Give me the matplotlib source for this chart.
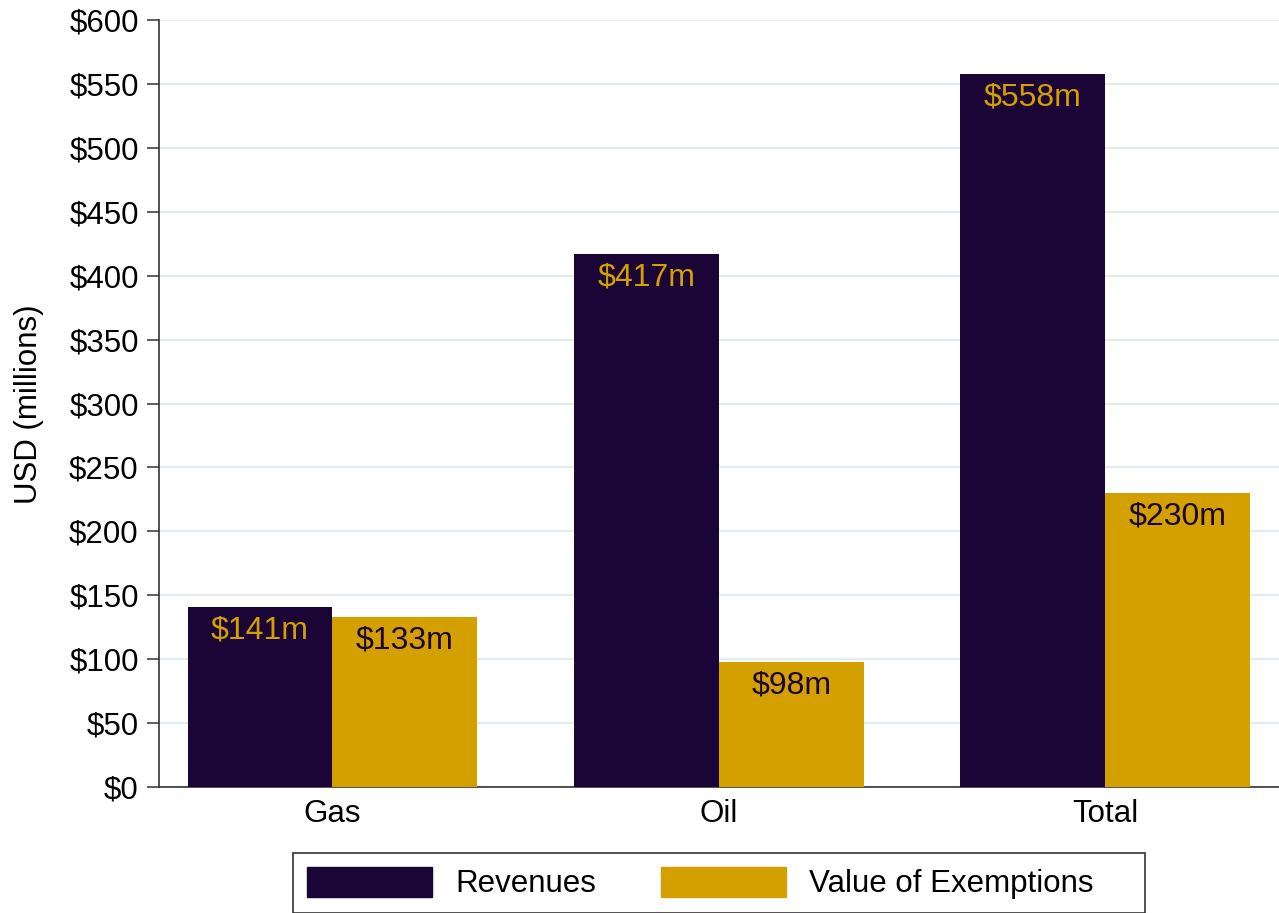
import matplotlib
matplotlib.use('Agg')
import matplotlib.pyplot as plt
from matplotlib.patches import Rectangle, Patch

plt.rcParams['font.family'] = ['Liberation Sans', 'DejaVu Sans']

categories = ['Gas', 'Oil', 'Total']
revenues = [141, 417, 558]
exemptions = [133, 98, 230]
y_ticks = list(range(0, 601, 50))
y_ticklabels = [f'${v}' for v in y_ticks]

C_REV = '#1a0536'
C_EXM = '#d3a000'
FS = 22.5

W, H = 1279, 913
fig = plt.figure(figsize=(W / 100, H / 100), dpi=100)
ax = fig.add_axes([159 / W, 1 - 787 / H, 1 - 159 / W, (787 - 20) / H])

bw = 0.375
x = list(range(len(categories)))
ax.bar([i - bw / 2 for i in x], revenues, width=bw, color=C_REV, zorder=3)
ax.bar([i + bw / 2 for i in x], exemptions, width=bw, color=C_EXM, zorder=3)

# value labels just inside the top of each bar
for i, v in enumerate(revenues):
    ax.annotate(f'${v}m', (i - bw / 2, v), xytext=(0, -17), textcoords='offset points',
                ha='center', va='center', fontsize=FS + 0.5, color=C_EXM, zorder=4)
for i, v in enumerate(exemptions):
    ax.annotate(f'${v}m', (i + bw / 2, v), xytext=(0, -17), textcoords='offset points',
                ha='center', va='center', fontsize=FS + 0.5, color=C_REV, zorder=4)

ax.set_xlim(-0.449, 2.45)
ax.set_ylim(0, 600)
ax.set_yticks(y_ticks)
ax.set_yticklabels(y_ticklabels)
ax.set_xticks(x)
ax.set_xticklabels(categories)
ax.tick_params(axis='y', length=8.6, width=1.1, pad=6, labelsize=FS, color='#333333')
ax.tick_params(axis='x', length=0, pad=9, labelsize=FS)
ax.grid(axis='y', color='#e2ecef', lw=1.6, zorder=0)
ax.set_axisbelow(True)
for s in ('top', 'right'):
    ax.spines[s].set_visible(False)
for s in ('left', 'bottom'):
    ax.spines[s].set_color('#333333')
    ax.spines[s].set_linewidth(1.2)

fig.text(29 / W, 1 - 404 / H, 'USD (millions)', rotation=90, ha='center', va='center', fontsize=FS)

# legend box drawn separately so it can sit flush with the bottom edge
fig.add_artist(Rectangle((293 / W, 0), (1145 - 293) / W, (913 - 853) / H,
                         transform=fig.transFigure, fill=False, ec='#333333', lw=1.2))
handles = [Patch(color=C_REV, label='Revenues'), Patch(color=C_EXM, label='Value of Exemptions')]
fig.legend(handles=handles, loc='center left', bbox_to_anchor=(307 / W, 1 - 883 / H),
           ncol=2, frameon=False, fontsize=FS, handlelength=4.0, handleheight=1.09,
           handletextpad=0.74, columnspacing=2.08, borderpad=0, borderaxespad=0)

fig.savefig('out.png', dpi=100)
